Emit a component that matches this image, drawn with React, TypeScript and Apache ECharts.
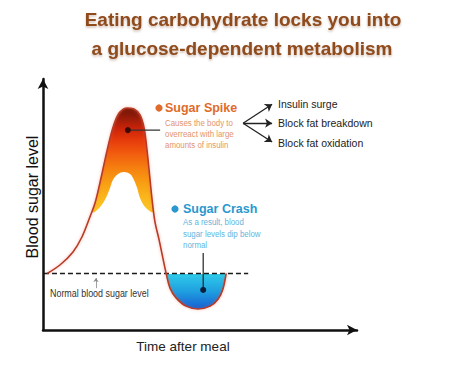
import React, { useEffect, useRef } from 'react';
import * as echarts from 'echarts';

// ---- data (time after meal, blood sugar level; arbitrary units) ----
const BASELINE = 22;
const curveTime = [1.3, 5.3, 9.4, 12.2, 14.7, 16.3, 17.9, 19.4, 21.0, 22.6, 24.1, 26.3, 28.5, 30.4, 31.7, 32.6, 33.5, 34.2, 35.1, 36.4, 37.3, 38.6, 39.8, 41.7, 44.8, 48.6, 52.4, 54.9, 56.4, 57.4];
const curveLevel = [22, 25.3, 30.4, 36.2, 44.0, 49.4, 57.6, 66.1, 74.7, 81.3, 84.8, 86.4, 86.0, 83.7, 78.6, 70.0, 59.1, 50.6, 42.0, 35.0, 29.6, 22, 16.3, 12.5, 9.3, 8.2, 9.3, 12.1, 16.0, 22];
const innerTime = [15.4, 17.9, 19.7, 21.0, 21.9, 23.5, 25.4, 27.3, 28.5, 29.5, 30.4, 32.0, 34.8];
const innerLevel = [45.1, 47.9, 51.4, 55.3, 58.4, 60.7, 61.5, 60.7, 58.4, 55.3, 51.4, 47.9, 45.1];
const INNER_BASE = 44.6;
const baselineSpan = [0.3, 64.3];
const spikePointer = [[26.6, 77.8], [36.7, 77.8]];
const crashPointer = [[50.2, 15.6], [50.2, 30.0]];
const arrowOrigin = [62.7, 80.5];
const arrowTargets = [[71.8, 87.9], [71.8, 80.5], [71.8, 73.2]];
const normalArrow = [[16.6, 16.3], [16.6, 20.2]];
const effects = ['Insulin surge', 'Block fat breakdown', 'Block fat oxidation'];
const titleLines = ['Eating carbohydrate locks you into', 'a glucose-dependent metabolism'];
const spikeText = ['Causes the body to', 'overreact with large', 'amounts of insulin'];
const crashText = ['As a result, blood', 'sugar levels dip below', 'normal'];

const SANS = '"Liberation Sans", Arial, sans-serif';

export default function App() {
  const ref = useRef<HTMLDivElement>(null);
  useEffect(() => {
    if (!ref.current) return;
    const chart = echarts.init(ref.current, undefined, { renderer: 'svg' });
    const curve = curveTime.map((t, i) => [t, curveLevel[i]]);
    const inner = innerTime.map((t, i) => [t, innerLevel[i]]);

    // global gradient, pixel rows 105 -> 312
    const fillGradient = {
      type: 'linear', x: 0, y: 105, x2: 0, y2: 312, global: true,
      colorStops: [
        { offset: 0, color: '#6a1206' },
        { offset: 0.048, color: '#8a1a08' },
        { offset: 0.111, color: '#c8220a' },
        { offset: 0.169, color: '#e63a0c' },
        { offset: 0.242, color: '#f2600e' },
        { offset: 0.314, color: '#f68410' },
        { offset: 0.386, color: '#f9a214' },
        { offset: 0.459, color: '#fbba1e' },
        { offset: 0.517, color: '#fcc628' },
        { offset: 0.522, color: 'rgba(255,255,255,0)' },
        { offset: 0.814, color: 'rgba(255,255,255,0)' },
        { offset: 0.817, color: '#2fcbea' },
        { offset: 0.9, color: '#1f9fe0' },
        { offset: 1, color: '#1654d0' },
      ],
    };

    const txt = (text: string, x: number, y: number, size: number, color: string, opts: any = {}) => ({
      type: 'text', x, y, rotation: opts.rotation || 0, scaleX: opts.scaleX || 1, z: 20,
      style: {
        text, x: 0, y: 0, fill: color, fontSize: size,
        fontWeight: opts.bold ? 'bold' : 'normal',
        fontFamily: SANS,
        align: opts.align || 'left', verticalAlign: 'middle',
        ...(opts.shadow ? { textShadowColor: 'rgba(110,55,20,0.35)', textShadowBlur: 2, textShadowOffsetY: 1.5 } : {}),
      },
    });

    const graphic: any[] = [
      txt(titleLines[0], 243, 19, 19, '#8f4b1c', { bold: true, align: 'center', shadow: true }),
      txt(titleLines[1], 242, 48, 19, '#8f4b1c', { bold: true, align: 'center', shadow: true }),
      { type: 'circle', shape: { cx: 159, cy: 108, r: 3.6 }, style: { fill: '#e06b2b' }, z: 20 },
      txt('Sugar Spike', 165, 108, 12.5, '#e06b2b', { bold: true }),
      ...spikeText.map((s, i) => txt(s, 165, 123 + i * 10.7, 9.5, '#e3946a', { scaleX: 0.83 })),
      ...effects.map((s, i) => txt(s, 278, 103.5 + i * 19.7, 10.5, '#222222')),
      { type: 'circle', shape: { cx: 175, cy: 209, r: 3.6 }, style: { fill: '#2a98cf' }, z: 20 },
      txt('Sugar Crash', 183, 209, 12.5, '#2a98cf', { bold: true }),
      ...crashText.map((s, i) => txt(s, 183, 222 + i * 11.5, 9.5, '#5fb5dd', { scaleX: 0.83 })),
      txt('Normal blood sugar level', 50, 293.5, 10.5, '#333333', { scaleX: 0.85 }),
      txt('Blood sugar level', 32, 197, 16, '#111111', { align: 'center', rotation: Math.PI / 2 }),
      txt('Time after meal', 183, 346, 13.5, '#222222', { align: 'center' }),
    ];

    const axisCommon = {
      type: 'value', min: 0,
      axisLine: { show: true, symbol: ['none', 'arrow'], symbolSize: [8, 10], lineStyle: { color: '#111', width: 2.5 } },
      axisTick: { show: false }, axisLabel: { show: false }, splitLine: { show: false },
      z: 10,
    };

    chart.setOption({
      animation: false,
      backgroundColor: '#ffffff',
      grid: { left: 43, top: 79, width: 314, height: 251, containLabel: false },
      xAxis: { ...axisCommon, max: 98.4 },
      yAxis: { ...axisCommon, max: 97.7 },
      graphic,
      series: [
        {
          name: 'fill', type: 'line', data: curve, smooth: 0.35, symbol: 'none', z: 2,
          lineStyle: { width: 0, opacity: 0 },
          areaStyle: { origin: BASELINE, color: fillGradient, opacity: 1 },
        },
        {
          name: 'inner', type: 'line', data: inner, smooth: 0.35, symbol: 'none', z: 3,
          lineStyle: { width: 0, opacity: 0 },
          areaStyle: { origin: INNER_BASE, color: '#ffffff', opacity: 1 },
        },
        {
          name: 'normal', type: 'line', data: baselineSpan.map((t) => [t, BASELINE]), symbol: 'none', z: 4,
          lineStyle: { color: '#1a1a1a', width: 1.6, type: [5, 3] },
        },
        {
          name: 'blood sugar', type: 'line', data: curve, smooth: 0.35, symbol: 'none', z: 5,
          lineStyle: { color: '#b83a28', width: 1.6, shadowColor: 'rgba(230,90,60,0.45)', shadowBlur: 3 },
        },
        {
          name: 'spikePointer', type: 'line', z: 6,
          data: [{ value: spikePointer[0], symbol: 'circle', symbolSize: 6 }, { value: spikePointer[1], symbol: 'none' }],
          showSymbol: true,
          itemStyle: { color: '#3a0a05' },
          lineStyle: { color: '#333', width: 1.2 },
        },
        {
          name: 'crashPointer', type: 'line', z: 6,
          data: [{ value: crashPointer[0], symbol: 'circle', symbolSize: 6 }, { value: crashPointer[1], symbol: 'none' }],
          showSymbol: true,
          itemStyle: { color: '#0a1e3a' },
          lineStyle: { color: '#222', width: 1.2 },
        },
        {
          name: 'effects', type: 'lines', coordinateSystem: 'cartesian2d', z: 6,
          symbol: ['none', 'arrow'], symbolSize: 7,
          lineStyle: { color: '#222', width: 1.3, opacity: 1 },
          data: arrowTargets.map((t) => ({ coords: [arrowOrigin, t] })),
        },
        {
          name: 'normalArrow', type: 'lines', coordinateSystem: 'cartesian2d', z: 6,
          symbol: ['none', 'arrow'], symbolSize: 4,
          lineStyle: { color: '#888', width: 0.8, opacity: 1 },
          data: [{ coords: normalArrow }],
        },
      ],
    });
    return () => chart.dispose();
  }, []);
  return <div ref={ref} style={{ position: 'fixed', left: 0, top: 0, width: 474, height: 367, background: '#fff' }} />;
}
